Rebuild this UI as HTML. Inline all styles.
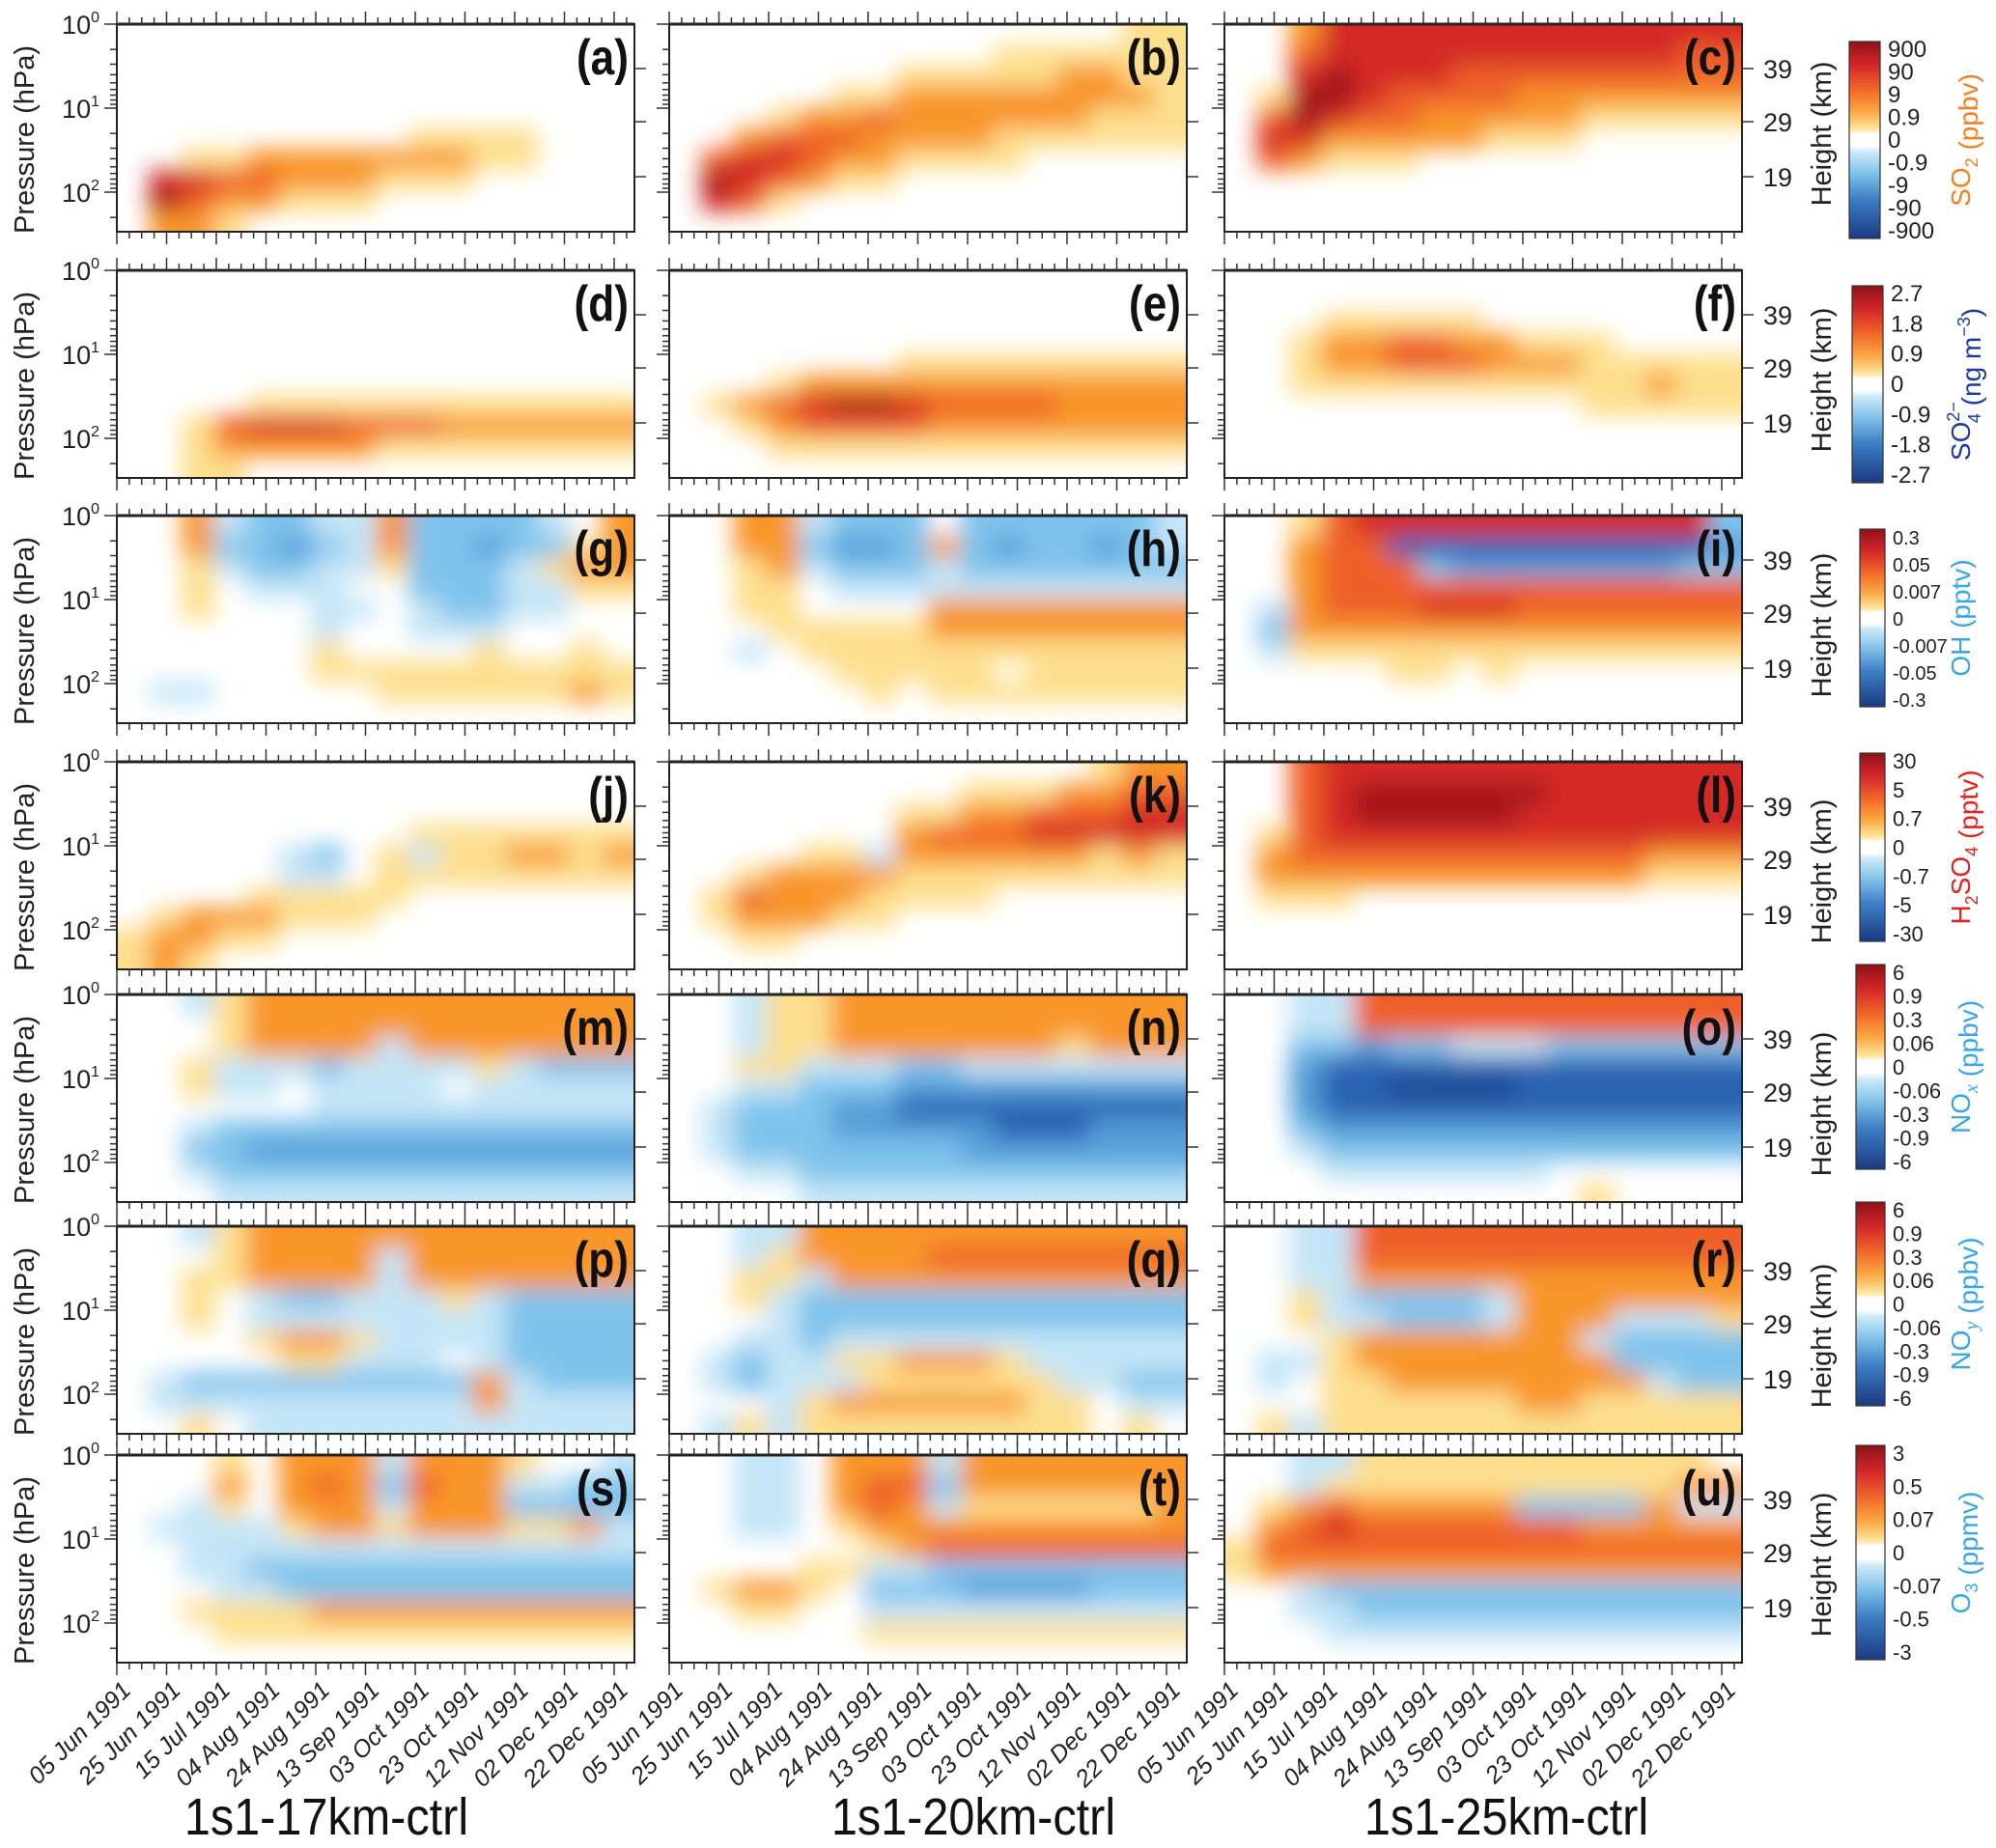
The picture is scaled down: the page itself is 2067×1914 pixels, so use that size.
<!DOCTYPE html>
<html><head><meta charset="utf-8"><style>
body{margin:0;background:#fff;}
svg{display:block;font-family:"Liberation Sans",sans-serif;}
</style></head><body>
<svg id="fig" width="2067" height="1914" viewBox="0 0 2067 1914" xmlns="http://www.w3.org/2000/svg">
<defs>
<filter id="soft" filterUnits="userSpaceOnUse" x="0" y="0" width="2067" height="1914"><feGaussianBlur stdDeviation="12"/></filter>
<linearGradient id="cbgrad" x1="0" y1="0" x2="0" y2="1">
<stop offset="0" stop-color="#8e1216"/><stop offset="0.12" stop-color="#d3262a"/><stop offset="0.25" stop-color="#f26b2a"/><stop offset="0.36" stop-color="#fbab45"/><stop offset="0.45" stop-color="#fee9a6"/><stop offset="0.47" stop-color="#ffffff"/><stop offset="0.53" stop-color="#ffffff"/><stop offset="0.56" stop-color="#cdeaf8"/><stop offset="0.66" stop-color="#86c6ec"/><stop offset="0.8" stop-color="#3d7fc6"/><stop offset="1" stop-color="#1b3a82"/>
</linearGradient>
</defs>
<g id="root"></g>
</svg>
<script>
const NS="http://www.w3.org/2000/svg";
// ---- data ----
const gridA=[[0,0,0,0,0,0,0,0,0,0,0,0,0,0,0,0],[0,0,0,0,0,0,0,0,0,0,0,0,0,0,0,0],[0,0,0,0,0,0,0,0,0,0,0,0,0,0,0,0],[0,0,0,0,0,0,0,0,0,0,0,0,0,0,0,0],[0,0,0,0,0,0,0,0,0,0,0,0,0,0,0,0],[0,0,0,0,0,0,0,0,0,1,1,1,1,0,0,0],[0,0,1,1,2,2,2,2,2,2,2,1,1,0,0,0],[0,4,4,3,3,2,2,2,1,1,1,0,0,0,0,0],[0,5,3,2,2,1,1,1,0,0,0,0,0,0,0,0],[0,2,2,1,0,0,0,0,0,0,0,0,0,0,0,0]];
const gridB=[[0,0,0,0,0,0,0,0,0,0,0,0,0,0,1,1],[0,0,0,0,0,0,0,0,0,0,1,1,1,1,1,1],[0,0,0,0,0,0,0,1,1,1,1,1,2,2,1,1],[0,0,0,0,0,1,1,2,2,2,2,2,2,2,2,1],[0,0,0,1,2,2,3,2,2,2,2,2,2,1,1,1],[0,0,2,3,3,3,2,2,2,2,1,1,1,1,1,1],[0,3,4,4,3,2,2,1,1,1,1,0,0,0,0,0],[0,5,4,3,2,1,1,0,0,0,0,0,0,0,0,0],[0,4,3,1,0,0,0,0,0,0,0,0,0,0,0,0],[0,0,0,0,0,0,0,0,0,0,0,0,0,0,0,0]];
const gridC=[[0,0,2,4,4,4,4,4,4,4,4,4,4,4,4,4],[0,0,3,4,4,4,4,4,4,4,4,4,4,4,3,3],[0,0,4,5,4,4,4,3,3,3,3,3,3,3,3,3],[0,1,5,5,4,3,3,3,3,2,2,2,2,2,2,2],[0,3,5,4,3,3,2,2,2,2,2,1,1,1,1,1],[0,4,4,2,2,2,2,2,1,1,1,0,0,0,0,0],[0,3,2,1,1,1,0,0,0,0,0,0,0,0,0,0],[0,0,0,0,0,0,0,0,0,0,0,0,0,0,0,0],[0,0,0,0,0,0,0,0,0,0,0,0,0,0,0,0],[0,0,0,0,0,0,0,0,0,0,0,0,0,0,0,0]];
const gridD=[[0,0,0,0,0,0,0,0,0,0,0,0,0,0,0,0],[0,0,0,0,0,0,0,0,0,0,0,0,0,0,0,0],[0,0,0,0,0,0,0,0,0,0,0,0,0,0,0,0],[0,0,0,0,0,0,0,0,0,0,0,0,0,0,0,0],[0,0,0,0,0,0,0,0,0,0,0,0,0,0,0,0],[0,0,0,0,0,0,0,0,0,0,0,0,0,0,0,0],[0,0,0,0,1,1,1,1,1,1,1,1,1,1,1,1],[0,0,1,3,4,4,4,3,3,3,2,2,2,2,2,2],[0,0,1,2,2,2,2,2,1,1,1,1,1,1,1,1],[0,0,1,1,0,0,0,0,0,0,0,0,0,0,0,0]];
const gridE=[[0,0,0,0,0,0,0,0,0,0,0,0,0,0,0,0],[0,0,0,0,0,0,0,0,0,0,0,0,0,0,0,0],[0,0,0,0,0,0,0,0,0,0,0,0,0,0,0,0],[0,0,0,0,0,0,0,0,0,0,0,0,0,0,0,0],[0,0,0,0,0,0,0,1,1,1,1,1,1,1,1,1],[0,0,0,1,2,2,2,2,2,2,2,2,2,2,2,2],[0,1,2,3,4,5,5,4,3,3,3,3,2,2,2,2],[0,0,1,2,3,3,3,3,2,2,2,2,2,2,2,2],[0,0,0,1,1,1,1,1,1,1,1,1,1,1,1,1],[0,0,0,0,0,0,0,0,0,0,0,0,0,0,0,0]];
const gridF=[[0,0,0,0,0,0,0,0,0,0,0,0,0,0,0,0],[0,0,0,0,0,0,0,0,0,0,0,0,0,0,0,0],[0,0,0,1,1,1,1,1,0,0,0,0,0,0,0,0],[0,0,1,2,2,3,3,2,2,1,1,1,0,0,0,0],[0,0,1,2,2,3,3,3,2,2,2,1,1,1,1,1],[0,0,1,1,1,1,1,1,1,1,1,1,1,2,1,1],[0,0,0,0,0,0,0,0,0,0,0,1,1,1,1,1],[0,0,0,0,0,0,0,0,0,0,0,0,0,0,0,0],[0,0,0,0,0,0,0,0,0,0,0,0,0,0,0,0],[0,0,0,0,0,0,0,0,0,0,0,0,0,0,0,0]];
const gridG=[[0,0,2,-1,-2,-2,-1,-1,2,-2,-2,-2,-2,-1,0,2],[0,0,2,-2,-2,-3,-2,-1,2,-2,-2,-3,-2,-2,1,2],[0,0,1,-1,-2,-2,-1,-1,1,-2,-2,-2,-1,1,2,2],[0,0,1,0,-1,-1,-1,0,0,-2,-2,-2,-1,-1,1,1],[0,0,1,0,0,0,-1,-1,0,-1,-2,-2,-1,-1,0,0],[0,0,0,0,0,0,-1,0,0,-1,-1,-1,0,0,0,0],[0,0,0,0,0,0,1,0,0,0,0,1,0,0,1,0],[0,0,0,0,0,0,1,1,1,1,1,1,1,1,1,1],[0,-1,-1,0,0,0,0,0,1,1,1,1,1,1,2,1],[0,0,0,0,0,0,0,0,0,0,0,0,0,0,0,0]];
const gridH=[[0,0,2,2,-1,-2,-2,-2,0,-2,-2,-2,-2,-2,-2,-1],[0,0,2,2,-2,-3,-3,-2,2,-2,-3,-2,-2,-3,-2,-1],[0,0,1,2,-1,-2,-2,-2,-1,-2,-2,-2,-2,-2,-2,-2],[0,0,1,1,0,-1,-1,-1,-1,-1,-1,-1,-1,-1,-1,-1],[0,0,1,1,0,0,0,0,2,2,2,2,2,2,2,2],[0,0,0,1,1,1,1,1,2,2,2,2,2,2,2,2],[0,0,-1,0,1,1,1,1,1,1,1,1,1,1,1,1],[0,0,0,0,0,1,1,1,1,1,0,1,1,1,1,1],[0,0,0,0,0,0,1,0,1,1,1,1,1,1,1,1],[0,0,0,0,0,0,0,0,0,0,0,0,0,0,0,0]];
const gridI=[[0,0,1,3,4,4,4,4,4,4,4,4,4,4,4,-2],[0,0,2,3,3,-4,-4,-4,-4,-4,-4,-4,-4,-4,-4,-3],[0,0,2,3,3,3,-2,-3,-3,-3,-3,-3,-3,-3,-2,-2],[0,0,2,3,3,3,3,3,3,3,3,3,3,3,3,3],[0,-1,2,3,3,3,4,4,4,3,3,3,3,3,3,3],[0,-2,2,2,2,2,2,2,2,2,2,2,2,2,2,2],[0,-1,1,1,1,1,1,1,1,1,1,1,1,1,1,1],[0,0,0,0,0,1,1,0,1,0,0,0,0,0,0,0],[0,0,0,0,0,0,0,0,0,0,0,0,0,0,0,0],[0,0,0,0,0,0,0,0,0,0,0,0,0,0,0,0]];
const gridJ=[[0,0,0,0,0,0,0,0,0,0,0,0,0,0,0,0],[0,0,0,0,0,0,0,0,0,0,0,0,0,0,0,0],[0,0,0,0,0,0,0,0,0,0,0,0,0,0,0,0],[0,0,0,0,0,0,0,0,0,1,1,1,1,1,1,1],[0,0,0,0,0,-1,-2,0,1,-1,1,1,2,2,1,2],[0,0,0,0,0,-1,-1,0,1,1,1,1,1,1,1,1],[0,0,0,0,1,1,1,1,1,0,0,0,0,0,0,0],[0,1,2,2,2,1,1,1,0,0,0,0,0,0,0,0],[1,2,2,1,1,0,0,0,0,0,0,0,0,0,0,0],[1,2,1,0,0,0,0,0,0,0,0,0,0,0,0,0]];
const gridK=[[0,0,0,0,0,0,0,0,0,0,0,0,0,1,2,2],[0,0,0,0,0,0,0,0,0,1,1,1,2,2,3,3],[0,0,0,0,0,0,0,1,1,2,2,3,3,3,4,4],[0,0,0,0,0,0,0,2,3,3,3,4,4,4,4,4],[0,0,0,0,1,1,-1,2,2,2,2,2,2,1,2,1],[0,0,1,2,2,2,2,1,1,1,1,1,1,1,1,1],[0,1,3,2,2,2,1,1,1,1,0,0,0,0,0,0],[0,1,2,2,2,1,1,0,0,0,0,0,0,0,0,0],[0,0,1,1,0,0,0,0,0,0,0,0,0,0,0,0],[0,0,0,0,0,0,0,0,0,0,0,0,0,0,0,0]];
const gridL=[[0,0,3,4,4,4,4,4,4,4,4,4,4,4,4,4],[0,0,3,4,5,5,5,5,5,5,4,4,4,4,4,4],[0,0,3,4,5,5,5,5,5,4,4,4,4,4,4,4],[0,1,3,4,4,4,4,4,4,4,4,4,4,4,4,4],[0,2,3,3,3,3,3,3,3,3,3,3,3,2,2,2],[0,2,2,2,2,2,2,2,2,2,2,2,2,1,1,1],[0,1,1,1,0,0,0,0,0,0,0,0,0,0,0,0],[0,0,0,0,0,0,0,0,0,0,0,0,0,0,0,0],[0,0,0,0,0,0,0,0,0,0,0,0,0,0,0,0],[0,0,0,0,0,0,0,0,0,0,0,0,0,0,0,0]];
const gridM=[[0,0,-1,1,2,2,2,2,2,2,2,2,2,2,2,2],[0,0,0,1,2,2,2,2,2,2,2,2,2,2,2,2],[0,0,0,1,2,2,2,2,-1,2,2,2,2,2,2,2],[0,0,1,-1,-1,-1,-2,-1,-1,-1,-1,1,-1,-2,-2,-2],[0,0,1,-1,-1,0,-1,-1,-1,-1,0,-1,-1,-1,-1,-1],[0,0,0,0,0,0,-1,-1,-1,-1,-1,-1,-1,-1,-1,-1],[0,0,-1,-2,-2,-2,-2,-2,-2,-2,-2,-2,-2,-2,-2,-2],[0,0,-2,-2,-3,-3,-3,-3,-3,-3,-3,-3,-3,-3,-3,-3],[0,0,-1,-2,-2,-2,-2,-2,-2,-2,-2,-2,-2,-2,-2,-2],[0,0,0,-1,-1,-1,-1,-1,-1,-1,-1,-1,-1,-1,-1,-1]];
const gridN=[[0,0,-1,1,1,2,2,2,2,2,2,2,2,2,2,2],[0,0,-1,1,1,2,2,2,2,2,2,2,2,2,2,2],[0,0,-1,1,1,2,2,2,2,2,2,2,1,2,2,2],[0,0,1,1,-1,-1,-1,-2,-2,-1,-1,-1,-1,-1,-1,-1],[0,0,-1,-1,-2,-2,-2,-3,-3,-3,-3,-3,-3,-3,-3,-3],[0,-1,-2,-2,-2,-3,-3,-4,-4,-4,-4,-4,-4,-4,-4,-4],[0,-1,-2,-2,-2,-3,-3,-3,-3,-3,-4,-4,-4,-3,-3,-3],[0,-1,-2,-2,-2,-2,-2,-2,-2,-3,-3,-3,-3,-3,-3,-3],[0,0,-1,-1,-2,-2,-2,-2,-2,-2,-2,-2,-2,-2,-2,-2],[0,0,0,0,-1,-1,-1,-1,-1,-1,-1,-1,-1,-1,-1,-1]];
const gridO=[[0,0,-1,-1,3,3,3,3,3,3,3,3,3,3,3,3],[0,0,-1,-1,3,3,3,3,3,3,3,3,3,3,3,3],[0,0,-2,-2,-3,-2,-2,-1,-1,-1,-2,-2,-2,-2,-2,-2],[0,0,-3,-4,-4,-4,-4,-4,-4,-4,-4,-4,-4,-4,-4,-4],[0,0,-3,-4,-4,-5,-5,-5,-5,-4,-4,-4,-4,-4,-4,-4],[0,0,-3,-4,-4,-4,-4,-4,-4,-4,-4,-4,-4,-4,-4,-4],[0,0,-2,-3,-3,-3,-3,-3,-3,-3,-3,-3,-3,-3,-3,-3],[0,0,-1,-2,-2,-2,-2,-2,-2,-2,-2,-2,-2,-2,-2,-2],[0,0,0,-1,-1,-1,-1,-1,-1,-1,0,0,0,0,0,0],[0,0,0,0,0,0,0,0,0,0,0,1,0,0,0,0]];
const gridP=[[0,0,-1,1,2,2,2,2,2,2,2,2,2,2,2,2],[0,0,0,1,2,2,2,2,-1,2,2,2,2,2,2,2],[0,0,1,1,2,2,2,2,-1,2,2,2,2,2,2,2],[0,0,1,0,-1,-2,-2,-1,-1,-1,1,-1,-2,-2,-2,-2],[0,0,1,0,-1,-1,-1,-1,-1,-1,-1,-1,-2,-2,-2,-2],[0,0,0,0,1,2,2,1,-1,-1,-1,-1,-2,-2,-2,-2],[0,0,0,0,0,1,1,-1,-1,-1,0,-1,-2,-2,-2,-2],[0,-1,-2,-2,-2,-2,-2,-2,-2,-2,-2,2,-1,-2,-2,-2],[0,-1,-1,-1,-1,-1,-1,-1,-1,-1,-1,2,-1,-1,-1,-1],[0,0,1,0,-1,-1,-1,-1,-1,-1,-1,-1,-1,-1,-1,-1]];
const gridQ=[[0,0,-1,-1,2,2,2,2,2,2,2,2,2,2,2,2],[0,0,-1,1,2,2,2,2,3,3,3,3,3,3,3,3],[0,0,1,1,-1,2,2,2,2,2,2,2,2,2,2,2],[0,0,1,-1,-2,-2,-2,-2,-2,-2,-2,-2,-2,-2,-2,-2],[0,0,0,-1,-2,-2,-2,-2,-2,-2,-2,-2,-2,-2,-2,-2],[0,0,-1,-1,-2,-1,-1,-1,-1,-1,-1,-1,-1,-1,-1,-1],[0,-1,-2,-1,-1,1,1,2,2,2,1,-1,-1,-1,-1,-1],[0,-1,-2,-1,-1,-1,1,1,1,1,1,1,-1,-1,-2,-2],[0,0,0,-1,1,2,2,2,2,2,2,1,1,0,-1,-1],[0,-1,1,-1,1,1,1,1,1,1,1,1,1,0,1,0]];
const gridR=[[0,0,-1,-1,3,3,3,3,3,3,3,3,3,3,3,3],[0,0,-1,-1,3,3,3,3,3,3,3,3,3,3,3,3],[0,0,-1,-1,2,2,2,2,2,2,2,2,2,2,2,2],[0,0,1,-1,-2,-2,-2,-2,-1,2,2,2,2,2,2,2],[0,0,1,-1,-1,-2,-2,-2,-1,2,2,2,-1,-1,-1,1],[0,0,0,1,2,2,2,2,2,2,2,-1,-2,-2,-2,-2],[0,-1,-1,1,2,2,2,2,2,2,2,2,-2,-2,-2,-2],[0,-1,0,1,1,2,2,2,2,2,2,2,2,-1,-2,-2],[0,0,0,1,1,1,1,1,1,2,2,1,1,1,1,1],[0,1,-1,1,1,1,1,1,1,1,1,1,1,1,1,1]];
const gridS=[[0,0,0,1,0,2,2,2,-1,2,2,2,1,0,0,-1],[0,0,0,2,0,2,3,2,-2,3,2,2,-1,-1,-2,-2],[0,0,-1,1,0,2,2,2,-1,2,2,2,-2,-2,-2,-2],[0,-1,-1,-1,-1,1,2,2,1,2,2,2,1,1,2,-1],[0,0,-1,-1,-1,-1,-1,-1,-1,-1,-1,-1,-1,-1,-1,-1],[0,0,-1,-1,-2,-2,-2,-2,-2,-2,-2,-2,-2,-2,-2,-2],[0,0,0,-1,-1,-2,-2,-2,-2,-2,-2,-2,-2,-2,-2,-2],[0,0,1,1,1,1,2,2,2,2,2,2,2,2,2,2],[0,0,0,1,1,1,1,1,1,1,1,1,1,1,1,1],[0,0,0,0,0,0,0,0,0,0,0,0,0,0,0,0]];
const gridT=[[0,0,-1,-1,0,2,2,2,-1,2,2,2,2,2,2,2],[0,0,-1,-1,0,2,3,3,-2,2,2,2,2,2,2,2],[0,0,-1,-1,0,2,3,2,-1,1,1,1,1,1,1,2],[0,0,-1,-1,0,1,2,2,2,2,2,2,2,2,2,2],[0,0,0,0,0,0,1,2,3,3,3,3,3,3,3,3],[0,0,0,0,1,1,-1,-1,-2,-2,-2,-2,-2,-2,-2,-2],[0,1,2,2,1,0,-2,-2,-2,-3,-3,-3,-3,-2,-2,-2],[0,0,1,1,0,0,-1,-1,-1,-1,-1,-1,-1,-1,-1,-1],[0,0,0,0,0,0,1,1,1,1,1,1,1,1,1,1],[0,0,0,0,0,0,0,0,0,0,0,0,0,0,0,0]];
const gridU=[[0,0,-1,-1,1,1,1,1,1,1,1,1,1,1,1,0],[0,0,-1,1,1,1,1,1,1,1,1,1,1,1,2,2],[0,1,2,3,2,2,2,2,2,-2,-2,-2,-2,2,-1,-1],[0,2,3,4,3,3,3,3,3,3,3,2,2,2,2,2],[1,3,3,3,3,3,3,3,3,3,3,3,3,3,3,3],[1,2,2,2,2,2,2,2,2,2,2,2,2,2,2,2],[0,0,-1,-2,-2,-2,-2,-2,-2,-2,-2,-2,-2,-2,-2,-2],[0,0,-1,-1,-2,-2,-2,-2,-2,-2,-2,-2,-2,-2,-2,-2],[0,0,0,-1,-1,-1,-1,-1,-1,-1,-1,-1,-1,-1,-1,-1],[0,0,0,0,0,0,0,0,0,0,0,0,0,0,0,0]];
const panelLetters=["a","b","c","d","e","f","g","h","i","j","k","l","m","n","o","p","q","r","s","t","u"];
const dateLabels=["05 Jun 1991","25 Jun 1991","15 Jul 1991","04 Aug 1991","24 Aug 1991","13 Sep 1991","03 Oct 1991","23 Oct 1991","12 Nov 1991","02 Dec 1991","22 Dec 1991"];
const pressureExps=["0","1","2"];
const heightLabels=["39","29","19"];
const heightFrac=[0.214,0.47,0.735];
const columnTitles=["1s1-17km-ctrl","1s1-20km-ctrl","1s1-25km-ctrl"];
const cbSO2=["900","90","9","0.9","0","-0.9","-9","-90","-900"];
const cbSO4=["2.7","1.8","0.9","0","-0.9","-1.8","-2.7"];
const cbOH=["0.3","0.05","0.007","0","-0.007","-0.05","-0.3"];
const cbH2SO4=["30","5","0.7","0","-0.7","-5","-30"];
const cbNOx=["6","0.9","0.3","0.06","0","-0.06","-0.3","-0.9","-6"];
const cbNOy=["6","0.9","0.3","0.06","0","-0.06","-0.3","-0.9","-6"];
const cbO3=["3","0.5","0.07","0","-0.07","-0.5","-3"];
// ---- layout ----
const grids=[gridA,gridB,gridC,gridD,gridE,gridF,gridG,gridH,gridI,gridJ,gridK,gridL,gridM,gridN,gridO,gridP,gridQ,gridR,gridS,gridT,gridU];
const colX=[121,693,1268], PW=536;
const rowY=[25,280,534,789,1030,1270,1507], PH=215;
const DEC=87;
const palette={"5":"#a3161c","4":"#d42a27","3":"#ee6129","2":"#f8962c","1":"#fddf8e","-1":"#c4e5f7","-2":"#7fc3ec","-3":"#559fd9","-4":"#2c64b2","-5":"#1d468f"};
const root=document.getElementById('root');
function mk(tag,attrs,parent){const e=document.createElementNS(NS,tag);for(const k in attrs)e.setAttribute(k,attrs[k]);(parent||root).appendChild(e);return e;}
function txt(s,attrs,parent){const e=mk('text',attrs,parent);e.textContent=s;return e;}

const cbList=[
 {labels:cbSO2,x:1915,y:43,w:32,h:204,fs:24,title:"SO",sub:"2",unit:" (ppbv)",color:"#f57f1f"},
 {labels:cbSO4,x:1918,y:296,w:32,h:204,fs:24,title:"SO",sub:"4",sup:"2−",unit:"  (ng m",usup:"−3",uend:")",color:"#1d3d9c"},
 {labels:cbOH,x:1926,y:548,w:26,h:184,fs:20,title:"OH",unit:" (pptv)",color:"#39a6e6"},
 {labels:cbH2SO4,x:1926,y:780,w:26,h:195,fs:22,title:"H",sub:"2",mid:"SO",sub2:"4",unit:" (pptv)",color:"#e3231f"},
 {labels:cbNOx,x:1922,y:999,w:30,h:212,fs:22,title:"NO",subi:"x",unit:" (ppbv)",color:"#39a6e6"},
 {labels:cbNOy,x:1922,y:1245,w:30,h:211,fs:22,title:"NO",subi:"y",unit:" (ppbv)",color:"#39a6e6"},
 {labels:cbO3,x:1922,y:1497,w:30,h:222,fs:22,title:"O",sub:"3",unit:" (ppmv)",color:"#39a6e6"}
];

function xScale(c,x0){return x0+c*PW/16;}
function yScale(r,y0){return y0+r*PH/10;}

for(let row=0;row<7;row++){
 for(let col=0;col<3;col++){
  const idx=row*3+col, g=grids[idx], x0=colX[col], y0=rowY[row];
  const pg=mk('g',{});
  
  
  const cid='clip'+idx;
  const cp=mk('clipPath',{id:cid},pg);
  mk('rect',{x:x0,y:y0,width:PW,height:PH},cp);
  const cg=mk('g',{'clip-path':'url(#'+cid+')'},pg);
  const fg=mk('g',{filter:'url(#soft)'},cg);
  for(let r=0;r<10;r++)for(let c=0;c<16;c++){
   const v=g[r][c]; if(!v) continue;
   let xa=xScale(c,x0), xb=xScale(c+1,x0), ya=yScale(r,y0), yb=yScale(r+1,y0);
   if(c===0)xa-=30; if(c===15)xb+=30; if(r===0)ya-=30; if(r===9)yb+=30;
   const cell=mk('rect',{x:xa.toFixed(1),y:ya.toFixed(1),width:(xb-xa+0.6).toFixed(1),height:(yb-ya+0.6).toFixed(1),fill:palette[String(v)]},fg);
   
   
  }
  const fr=mk('rect',{x:x0,y:y0,width:PW,height:PH,fill:'none',stroke:'#222','stroke-width':2},pg);
  
  
  mk('line',{x1:x0,y1:y0,x2:x0+PW,y2:y0,stroke:'#222','stroke-width':3},pg);
  for(let k=0;k*12.875<=PW;k++){
   const x=x0+k*12.875, maj=(k%4===0), L=maj?13:7;
   mk('line',{x1:x,y1:y0,x2:x,y2:y0-L,stroke:'#333','stroke-width':1.5},pg);
   mk('line',{x1:x,y1:y0+PH,x2:x,y2:y0+PH+L,stroke:'#333','stroke-width':1.5},pg);
  }
  for(let d=0;d<3;d++)for(let m=1;m<10;m++){
   const y=y0+(d+Math.log10(m))*DEC; if(y>y0+PH) break;
   const L=m===1?13:7;
   mk('line',{x1:x0,y1:y,x2:x0-L,y2:y,stroke:'#333','stroke-width':1.5},pg);
  }
  heightFrac.forEach(f=>{const y=y0+f*PH;mk('line',{x1:x0+PW,y1:y,x2:x0+PW+12,y2:y,stroke:'#333','stroke-width':1.5},pg);});
  const pl=txt('('+panelLetters[idx]+')',{x:x0+PW-6,y:y0+52,'text-anchor':'end','font-size':52,'font-weight':'bold',fill:'#111',transform:'translate('+(x0+PW-6)+' 0) scale(0.85 1) translate('+(-(x0+PW-6))+' 0)'},pg);
  
  
  if(col===0){
   pressureExps.forEach((e,i)=>{
    const t=txt('10',{x:x0-18,y:y0+i*DEC+10,'text-anchor':'end','font-size':27,fill:'#222'},pg);
    const s=mk('tspan',{dy:-12,'font-size':16},t); s.textContent=e;
    
    
   });
   const yl=txt('Pressure (hPa)',{x:0,y:0,'text-anchor':'middle','font-size':29,fill:'#222',transform:'translate(35 '+(y0+PH*0.5+12)+') rotate(-90)'},pg);
   
   
  }
  if(col===2){
   heightLabels.forEach((h,i)=>{
    const t=txt(h,{x:x0+PW+22,y:y0+heightFrac[i]*PH+10,'font-size':27,fill:'#222'},pg);
    
    
   });
   const hl=txt('Height (km)',{x:0,y:0,'text-anchor':'middle','font-size':29,fill:'#222',transform:'translate(1896 '+(y0+PH*0.5+6)+') rotate(-90)'},pg);
   
   
  }
  if(row===6){
   dateLabels.forEach((d,k)=>{
    const ex=x0+k*51.5+16, ey=y0+PH+30;
    const t=txt(d,{x:ex,y:ey,'text-anchor':'end','font-size':25,'font-style':'italic',fill:'#222',transform:'rotate(-45 '+ex+' '+ey+')'},pg);
    
    
   });
  }
 }
}
const titleX=[338,1008,1560];
columnTitles.forEach((s,i)=>{
 const t=txt(s,{x:titleX[i],y:1900,'text-anchor':'middle','font-size':54,fill:'#111',transform:'translate('+titleX[i]+' 0) scale(0.9 1) translate('+(-titleX[i])+' 0)'});
 
 
});
cbList.forEach((cb,i)=>{
 const g=mk('g',{});
 
 
 mk('rect',{x:cb.x,y:cb.y,width:cb.w,height:cb.h,fill:'url(#cbgrad)',stroke:'#333','stroke-width':1.2},g);
 const n=cb.labels.length;
 cb.labels.forEach((l,j)=>{
  const y=cb.y+8+j*(cb.h-16)/(n-1);
  const t=txt(l,{x:cb.x+cb.w+8,y:y+8,'font-size':cb.fs,fill:'#222'},g);
  
  
 });
 const cx=2040, cy=cb.y+cb.h/2;
 const t=txt('',{x:0,y:0,'text-anchor':'middle','font-size':28,fill:cb.color,transform:'translate('+cx+' '+cy+') rotate(-90)'},g);
 
 
 const add=(s,o)=>{const sp=mk('tspan',o||{},t);sp.textContent=s;return sp;};
 add(cb.title);
 if(cb.sup){add(cb.sup,{dy:-11,'font-size':18});add(cb.sub,{dx:-22,dy:22,'font-size':18});add('',{dy:-11});}
 else if(cb.sub){add(cb.sub,{dy:8,'font-size':18});if(cb.mid){add(cb.mid,{dy:-8});add(cb.sub2,{dy:8,'font-size':18});}add('',{dy:-8});}
 if(cb.subi){add(cb.subi,{dy:8,'font-size':20,'font-style':'italic','font-family':'Liberation Serif'});add('',{dy:-8});}
 add(cb.unit);
 if(cb.usup){add(cb.usup,{dy:-11,'font-size':18});add(cb.uend,{dy:11});}
});
</script>
</body></html>
